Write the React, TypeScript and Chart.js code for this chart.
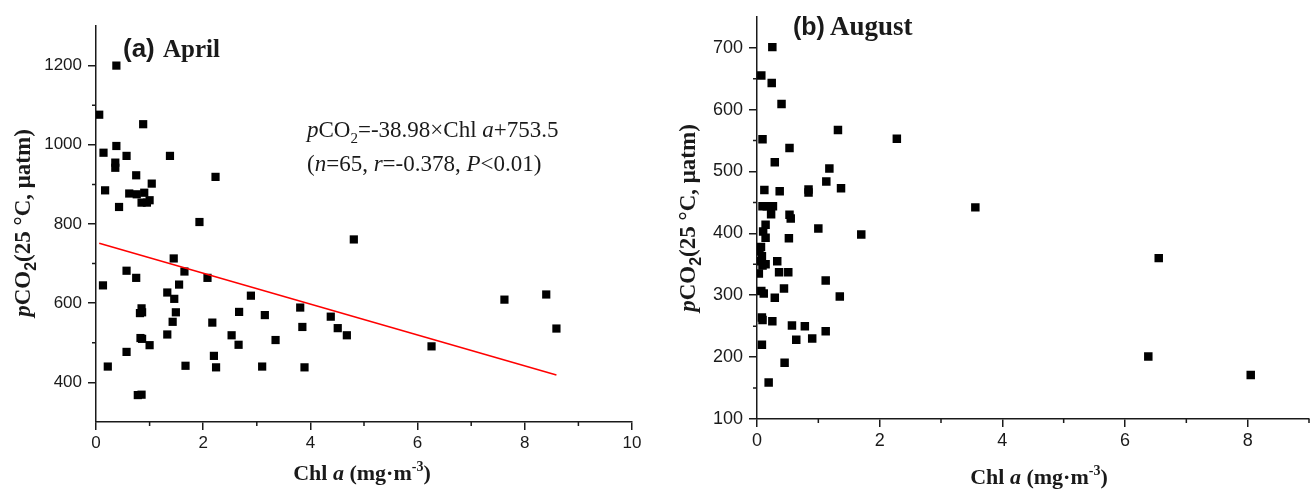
import React, { useEffect, useRef } from 'react';
import { Chart, registerables } from 'chart.js';

Chart.register(...registerables);

// ---------- Data: (a) April ----------
const aprChl = [
  0.38, 0.06, 0.88, 0.38, 0.14, 0.57, 1.38, 0.36, 0.36, 0.75, 2.23, 1.04, 0.17, 0.62, 0.76, 0.9,
  0.85, 0.95, 1.0, 0.43, 1.93, 0.13, 0.57, 0.75, 1.45, 1.65, 2.08, 1.55, 1.33, 1.46, 2.89, 0.85,
  0.82, 0.86, 1.49, 2.67, 3.15, 3.81, 1.43, 2.17, 3.85, 1.33, 2.53, 0.83, 0.86, 3.35, 1.0, 2.66,
  0.57, 2.2, 0.22, 1.67, 2.24, 3.1, 3.89, 0.78, 0.85, 4.81, 4.38, 4.51, 4.68, 6.26, 7.62, 8.4, 8.59,
];
const aprPco2 = [
  1200, 1076, 1052, 997, 980, 972, 972, 955, 942, 923, 919, 902, 885, 877, 875, 879,
  854, 854, 860, 843, 805, 645, 682, 664, 713, 680, 664, 647, 627, 611, 619, 587,
  575, 577, 577, 578, 570, 589, 553, 551, 540, 521, 519, 512, 510, 507, 494, 495,
  477, 467, 440, 442, 438, 440, 438, 368, 369, 761, 566, 537, 519, 491, 609, 622, 536,
];
const aprSlope = -38.98;
const aprIntercept = 753.5;

// ---------- Data: (b) August ----------
const augChl = [
  0.25, 0.07, 0.24, 0.4, 1.32, 2.28, 0.09, 0.53, 0.29, 1.18, 1.13, 1.37, 0.84, 0.84, 0.12, 0.37,
  0.09, 0.16, 0.26, 0.23, 0.53, 0.55, 3.56, 1.0, 1.7, 0.14, 0.1, 0.14, 0.52, 0.065, 0.04, 0.08,
  0.03, 0.14, 0.33, 0.09, 0.36, 0.51, 0.03, 1.12, 0.44, 0.07, 0.11, 0.29, 1.35, 0.08, 0.09, 0.25,
  0.57, 0.78, 1.12, 0.64, 0.9, 0.08, 0.45, 0.19, 6.55, 6.38, 8.05,
];
const augPco2 = [
  701, 655, 643, 609, 567, 553, 552, 538, 515, 505, 484, 473, 471, 466, 470, 468,
  444, 444, 444, 431, 430, 424, 442, 408, 398, 414, 403, 393, 392, 378, 371, 363,
  355, 350, 355, 348, 337, 337, 335, 324, 311, 307, 303, 296, 298, 264, 260, 258,
  251, 250, 242, 228, 230, 220, 191, 159, 360, 201, 171,
];

// ---------- Tick values ----------
const aprXMajor = [0, 2, 4, 6, 8, 10];
const aprXMinor = [1, 3, 5, 7, 9];
const aprYMajor = [400, 600, 800, 1000, 1200];
const aprYMinor = [500, 700, 900, 1100];
const augXMajor = [0, 2, 4, 6, 8];
const augXMinor = [1, 3, 5, 7, 9];
const augYMajor = [100, 200, 300, 400, 500, 600, 700];
const augYMinor = [150, 250, 350, 450, 550, 650];

const SERIF = '"Liberation Serif", "Times New Roman", serif';
const SANS = '"Liberation Sans", Arial, sans-serif';
const INK = '#1a1a1a';

type Seg = { t: string; f: string; dy?: number };

function drawRich(
  ctx: CanvasRenderingContext2D,
  segs: Seg[],
  x: number,
  y: number,
  align: 'left' | 'center',
  rotate = false
) {
  ctx.save();
  ctx.translate(x, y);
  if (rotate) ctx.rotate(-Math.PI / 2);
  ctx.textBaseline = 'alphabetic';
  ctx.textAlign = 'left';
  ctx.fillStyle = INK;
  let w = 0;
  for (const s of segs) {
    ctx.font = s.f;
    w += ctx.measureText(s.t).width;
  }
  let cx = align === 'center' ? -w / 2 : 0;
  for (const s of segs) {
    ctx.font = s.f;
    ctx.fillText(s.t, cx, s.dy || 0);
    cx += ctx.measureText(s.t).width;
  }
  ctx.restore();
}

const yTitle = (size: number): Seg[] => [
  { t: 'p', f: `italic bold ${size}px ${SERIF}` },
  { t: 'CO', f: `bold ${size}px ${SERIF}` },
  { t: '2', f: `bold ${Math.round(size * 0.68)}px ${SANS}`, dy: size * 0.28 },
  { t: '(25 °C, μatm)', f: `bold ${size}px ${SERIF}` },
];
const xTitle = (size: number): Seg[] => [
  { t: 'Chl ', f: `bold ${size}px ${SERIF}` },
  { t: 'a', f: `italic bold ${size}px ${SERIF}` },
  { t: ' (mg·m', f: `bold ${size}px ${SERIF}` },
  { t: '-3', f: `bold ${Math.round(size * 0.65)}px ${SERIF}`, dy: -size * 0.4 },
  { t: ')', f: `bold ${size}px ${SERIF}` },
];

type PanelSpec = {
  xs: number[];
  ys: number[];
  fit?: { slope: number; intercept: number };
  xMin: number;
  xMax: number;
  yMin: number;
  yMax: number;
  xMajor: number[];
  xMinor: number[];
  yMajor: number[];
  yMinor: number[];
  padding: { left: number; top: number; right: number; bottom: number };
  yAxisWidth: number;
  xAxisHeight: number;
  tickSize: number;
  pointRadius: number;
  decorate: (ctx: CanvasRenderingContext2D) => void;
};

function buildConfig(p: PanelSpec): any {
  const points = p.xs.map((x, i) => ({ x, y: p.ys[i] }));
  const datasets: any[] = [
    {
      type: 'scatter',
      data: points,
      pointStyle: 'rect',
      pointRadius: p.pointRadius,
      pointBackgroundColor: '#000',
      pointBorderWidth: 0,
      showLine: false,
      order: 1,
    },
  ];
  if (p.fit) {
    const lo = Math.min(...p.xs);
    const hi = Math.max(...p.xs);
    datasets.push({
      type: 'line',
      data: [
        { x: lo, y: p.fit.slope * lo + p.fit.intercept },
        { x: hi, y: p.fit.slope * hi + p.fit.intercept },
      ],
      borderColor: '#ff0000',
      borderWidth: 1.5,
      pointRadius: 0,
      fill: false,
      order: 0,
    });
  }
  const gridOpts = {
    drawOnChartArea: false,
    drawTicks: true,
    tickLength: 8,
    color: INK,
    lineWidth: 1.5,
  };
  const borderOpts = { display: true, color: INK, width: 1.5 };
  const decor = {
    id: 'decor',
    afterDraw(chart: any) {
      const ctx = chart.ctx as CanvasRenderingContext2D;
      const xs = chart.scales.x;
      const ys = chart.scales.y;
      const area = chart.chartArea;
      ctx.save();
      ctx.strokeStyle = INK;
      ctx.lineWidth = 1.5;
      ctx.beginPath();
      for (const v of p.xMinor) {
        const px = xs.getPixelForValue(v);
        ctx.moveTo(px, area.bottom);
        ctx.lineTo(px, area.bottom + 4);
      }
      for (const v of p.yMinor) {
        const py = ys.getPixelForValue(v);
        ctx.moveTo(area.left - 4, py);
        ctx.lineTo(area.left, py);
      }
      ctx.stroke();
      ctx.restore();
      p.decorate(ctx);
    },
  };
  const fmt = (v: number | string) => String(v);
  return {
    type: 'scatter',
    data: { datasets },
    options: {
      responsive: false,
      animation: false,
      events: [],
      layout: { padding: p.padding },
      plugins: { legend: { display: false }, tooltip: { enabled: false } },
      scales: {
        x: {
          type: 'linear',
          min: p.xMin,
          max: p.xMax,
          afterBuildTicks: (s: any) => {
            s.ticks = p.xMajor.map((v) => ({ value: v }));
          },
          afterFit: (s: any) => {
            s.height = p.xAxisHeight;
          },
          grid: gridOpts,
          border: borderOpts,
          ticks: {
            font: { family: SANS, size: p.tickSize },
            color: INK,
            padding: 3,
            maxRotation: 0,
            autoSkip: false,
            callback: fmt,
          },
        },
        y: {
          type: 'linear',
          min: p.yMin,
          max: p.yMax,
          afterBuildTicks: (s: any) => {
            s.ticks = p.yMajor.map((v) => ({ value: v }));
          },
          afterFit: (s: any) => {
            s.width = p.yAxisWidth;
          },
          grid: gridOpts,
          border: borderOpts,
          ticks: {
            font: { family: SANS, size: p.tickSize },
            color: INK,
            padding: 6,
            autoSkip: false,
            callback: fmt,
          },
        },
      },
    },
    plugins: [decor],
  };
}

const aprilSpec: PanelSpec = {
  xs: aprChl,
  ys: aprPco2,
  fit: { slope: aprSlope, intercept: aprIntercept },
  xMin: 0,
  xMax: 10,
  yMin: 300,
  yMax: 1300,
  xMajor: aprXMajor,
  xMinor: aprXMinor,
  yMajor: aprYMajor,
  yMinor: aprYMinor,
  padding: { left: 0, top: 26, right: 18, bottom: 0 },
  yAxisWidth: 96,
  xAxisHeight: 69,
  tickSize: 17,
  pointRadius: 5.8,
  decorate: (ctx) => {
    drawRich(ctx, [{ t: '(a)', f: `bold 26px ${SANS}` }], 123, 57, 'left');
    drawRich(ctx, [{ t: 'April', f: `bold 25px ${SERIF}` }], 163, 57, 'left');
    drawRich(ctx, yTitle(23), 30, 223, 'center', true);
    drawRich(ctx, xTitle(22), 362, 480, 'center');
    const r = `23px ${SERIF}`;
    const ri = `italic 23px ${SERIF}`;
    drawRich(
      ctx,
      [
        { t: 'p', f: ri },
        { t: 'CO', f: r },
        { t: '2', f: `15px ${SERIF}`, dy: 6 },
        { t: '=-38.98×Chl ', f: r },
        { t: 'a', f: ri },
        { t: '+753.5', f: r },
      ],
      307,
      137,
      'left'
    );
    drawRich(
      ctx,
      [
        { t: '(', f: r },
        { t: 'n', f: ri },
        { t: '=65, ', f: r },
        { t: 'r', f: ri },
        { t: '=-0.378, ', f: r },
        { t: 'P', f: ri },
        { t: '<0.01)', f: r },
      ],
      307,
      171,
      'left'
    );
  },
};

const RIGHT_OFFSET = 650;

const augustSpec: PanelSpec = {
  xs: augChl,
  ys: augPco2,
  xMin: 0,
  xMax: 9,
  yMin: 100,
  yMax: 750,
  xMajor: augXMajor,
  xMinor: augXMinor,
  yMajor: augYMajor,
  yMinor: augYMinor,
  padding: { left: 0, top: 13, right: 4, bottom: 0 },
  yAxisWidth: 107,
  xAxisHeight: 72,
  tickSize: 18,
  pointRadius: 6,
  decorate: (ctx) => {
    drawRich(ctx, [{ t: '(b)', f: `bold 25px ${SANS}` }], 793 - RIGHT_OFFSET, 35, 'left');
    drawRich(ctx, [{ t: 'August', f: `bold 27px ${SERIF}` }], 830 - RIGHT_OFFSET, 35, 'left');
    drawRich(ctx, yTitle(23), 695 - RIGHT_OFFSET, 218, 'center', true);
    drawRich(ctx, xTitle(22), 1039 - RIGHT_OFFSET, 484, 'center');
  },
};

export default function App() {
  const leftRef = useRef<HTMLCanvasElement | null>(null);
  const rightRef = useRef<HTMLCanvasElement | null>(null);

  useEffect(() => {
    const charts: Chart[] = [];
    if (leftRef.current) charts.push(new Chart(leftRef.current, buildConfig(aprilSpec)));
    if (rightRef.current) charts.push(new Chart(rightRef.current, buildConfig(augustSpec)));
    return () => charts.forEach((c) => c.destroy());
  }, []);

  return (
    <div
      style={{
        position: 'absolute',
        left: 0,
        top: 0,
        width: 1315,
        height: 491,
        background: '#fff',
        overflow: 'hidden',
      }}
    >
      <canvas
        ref={leftRef}
        width={650}
        height={491}
        style={{ position: 'absolute', left: 0, top: 0, width: 650, height: 491 }}
      />
      <canvas
        ref={rightRef}
        width={665}
        height={491}
        style={{ position: 'absolute', left: RIGHT_OFFSET, top: 0, width: 665, height: 491 }}
      />
    </div>
  );
}
